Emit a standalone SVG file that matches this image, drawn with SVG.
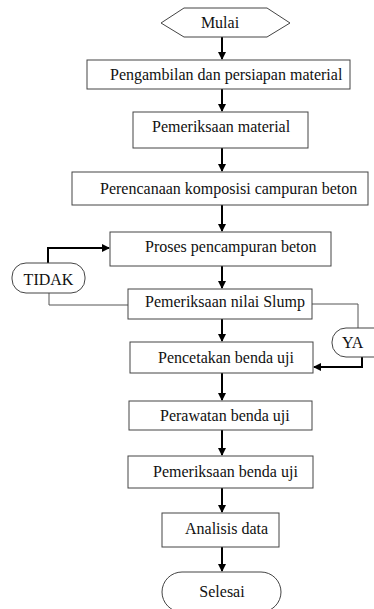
<svg xmlns="http://www.w3.org/2000/svg" width="374" height="609" viewBox="0 0 374 609">
<style>
.box{fill:#fff;stroke:#444;stroke-width:1}
.t{font-family:"Liberation Serif","Times New Roman",serif;font-size:16px;fill:#111}
.a{stroke:#000;stroke-width:2;fill:none}
.l{stroke:#555;stroke-width:1;fill:none}
</style>
<defs>
<marker id="ah" markerWidth="8" markerHeight="8" refX="7" refY="4" orient="auto" markerUnits="userSpaceOnUse">
<path d="M0,0 L8,4 L0,8 Z" fill="#000"/>
</marker>
</defs>
<rect width="374" height="609" fill="#fff"/>
<g id="connectors">
<line class="a" x1="222" y1="37" x2="222" y2="59" marker-end="url(#ah)"/>
<line class="a" x1="222" y1="89" x2="222" y2="111" marker-end="url(#ah)"/>
<line class="a" x1="222" y1="148" x2="222" y2="171" marker-end="url(#ah)"/>
<line class="a" x1="222" y1="205" x2="222" y2="231" marker-end="url(#ah)"/>
<line class="a" x1="222" y1="266" x2="222" y2="288" marker-end="url(#ah)"/>
<line class="a" x1="222" y1="319" x2="222" y2="341" marker-end="url(#ah)"/>
<line class="a" x1="222" y1="373" x2="222" y2="400" marker-end="url(#ah)"/>
<line class="a" x1="222" y1="430" x2="222" y2="455" marker-end="url(#ah)"/>
<line class="a" x1="222" y1="488" x2="222" y2="512" marker-end="url(#ah)"/>
<line class="a" x1="222" y1="547" x2="222" y2="571" marker-end="url(#ah)"/>
<path class="l" d="M128,305 H49 V293"/>
<path class="a" d="M48,263 V248 H109" marker-end="url(#ah)"/>
<path class="l" d="M312,304 H358 V328"/>
<path class="a" d="M362,357 V367 H314" marker-end="url(#ah)"/>
</g>
<g id="mulai">
<polygon class="box" points="161,23 184,8 267,8 290,23 267,37 184,37"/>
<text class="t" x="220" y="28" text-anchor="middle">Mulai</text>
</g>
<g id="n1">
<rect class="box" x="87" y="60" width="263" height="29"/>
<text class="t" x="110" y="80">Pengambilan dan persiapan material</text>
</g>
<g id="n2">
<rect class="box" x="133" y="112" width="175" height="36"/>
<text class="t" x="152" y="132">Pemeriksaan material</text>
</g>
<g id="n3">
<rect class="box" x="72" y="172" width="296" height="33"/>
<text class="t" x="100" y="194">Perencanaan komposisi campuran beton</text>
</g>
<g id="n4">
<rect class="box" x="110" y="232" width="221" height="34"/>
<text class="t" x="145" y="252">Proses pencampuran beton</text>
</g>
<g id="tidak">
<rect class="box" x="12" y="263" width="73" height="30" rx="14" ry="14"/>
<text class="t" x="48.5" y="285" text-anchor="middle">TIDAK</text>
</g>
<g id="n5">
<rect class="box" x="128" y="289" width="184" height="30"/>
<text class="t" x="145" y="307">Pemeriksaan nilai Slump</text>
</g>
<g id="ya">
<rect class="box" x="332" y="328" width="60" height="29" rx="14" ry="14"/>
<text class="t" x="342" y="348">YA</text>
</g>
<g id="n6">
<rect class="box" x="130" y="342" width="183" height="31"/>
<text class="t" x="158" y="363">Pencetakan benda uji</text>
</g>
<g id="n7">
<rect class="box" x="129" y="401" width="183" height="29"/>
<text class="t" x="160" y="421">Perawatan benda uji</text>
</g>
<g id="n8">
<rect class="box" x="128" y="456" width="185" height="32"/>
<text class="t" x="153" y="477">Pemeriksaan benda uji</text>
</g>
<g id="n9">
<rect class="box" x="162" y="513" width="117" height="34"/>
<text class="t" x="185" y="534">Analisis data</text>
</g>
<g id="selesai">
<rect class="box" x="162" y="572" width="119" height="40" rx="20" ry="20"/>
<text class="t" x="222" y="597" text-anchor="middle">Selesai</text>
</g>
</svg>
